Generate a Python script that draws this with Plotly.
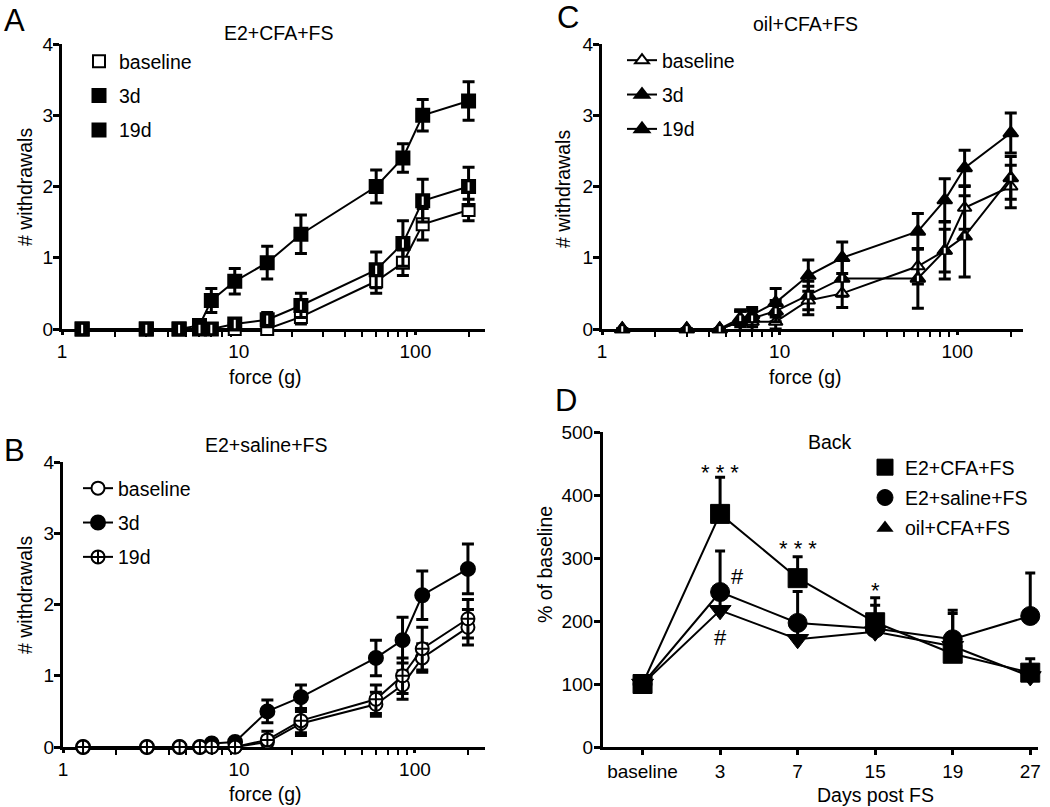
import plotly.graph_objects as go

W, H = 1050, 807
FONT = "Liberation Sans, Arial, sans-serif"

# ---------------- data ----------------
force = [1.3, 3, 4.6, 6, 7, 9.5, 14.5, 22.5, 60, 85, 110, 200]
labels_abc = ["baseline", "3d", "19d"]

a_baseline = [0, 0, 0, 0, 0, 0, 0, 0.17, 0.67, 0.93, 1.47, 1.67]
a_baseline_err = [0, 0, 0, 0, 0, 0, 0, 0.10, 0.17, 0.18, 0.22, 0.15]
a_3d = [0, 0, 0, 0.05, 0.4, 0.67, 0.93, 1.33, 2.0, 2.4, 3.0, 3.2]
a_3d_err = [0, 0, 0, 0, 0.17, 0.18, 0.23, 0.27, 0.23, 0.20, 0.22, 0.27]
a_19d = [0, 0, 0, 0, 0, 0.07, 0.13, 0.33, 0.83, 1.2, 1.8, 2.0]
a_19d_err = [0, 0, 0, 0, 0, 0.05, 0.10, 0.17, 0.25, 0.32, 0.30, 0.27]

b_baseline = [0, 0, 0, 0, 0, 0, 0.07, 0.33, 0.6, 0.87, 1.25, 1.68]
b_baseline_err = [0, 0, 0, 0, 0, 0, 0.08, 0.17, 0.17, 0.20, 0.20, 0.25]
b_3d = [0, 0, 0, 0, 0.05, 0.07, 0.5, 0.7, 1.25, 1.5, 2.13, 2.5]
b_3d_err = [0, 0, 0, 0, 0, 0, 0.16, 0.17, 0.25, 0.32, 0.34, 0.35]
b_19d = [0, 0, 0, 0, 0, 0, 0.1, 0.37, 0.67, 1.0, 1.38, 1.8]
b_19d_err = [0, 0, 0, 0, 0, 0, 0.12, 0.17, 0.20, 0.25, 0.30, 0.27]

c_baseline = [0, 0, 0, 0.1, 0.1, 0.1, 0.4, 0.5, 0.88, 1.1, 1.7, 2.0]
c_baseline_err = [0, 0, 0, 0.15, 0.15, 0.10, 0.20, 0.20, 0.25, 0.30, 0.30, 0.30]
c_3d = [0, 0, 0, 0.1, 0.2, 0.37, 0.75, 1.0, 1.37, 1.81, 2.26, 2.75]
c_3d_err = [0, 0, 0, 0.15, 0.10, 0.20, 0.22, 0.22, 0.25, 0.30, 0.25, 0.28]
c_19d = [0, 0, 0, 0.15, 0.15, 0.25, 0.47, 0.71, 0.71, 1.1, 1.3, 2.12]
c_19d_err = [0, 0, 0, 0.12, 0.12, 0.15, 0.20, 0.25, 0.42, 0.40, 0.57, 0.30]

days = ["baseline", "3", "7", "15", "19", "27"]
d_groups = ["E2+CFA+FS", "E2+saline+FS", "oil+CFA+FS"]
d_e2cfa = [100, 370, 268, 198, 148, 118]
d_e2cfa_err = [0, 58, 34, 39, 15, 22]
d_e2sal = [100, 246, 197, 188, 171, 208]
d_e2sal_err = [0, 65, 50, 37, 46, 68]
d_oil = [100, 217, 171, 183, 160, 112]
d_oil_err = [0, 20, 15, 10, 52, 18]

minor_log_ticks = [2, 3, 4, 5, 6, 7, 8, 9, 20, 30, 40, 50, 60, 70, 80, 90, 200]


def px(x):
    return x / W


def py(y):
    return 1 - y / H


fig = go.Figure()


def err(arr, w=6):
    return dict(type="data", array=arr, color="black", thickness=3, width=w)


def add_series(xa, ya, y, e, name, symbol, fill, legend, mode, size=13, overlay=None):
    fig.add_trace(go.Scatter(
        x=force, y=y, error_y=err(e), mode=mode, name=name,
        xaxis=xa, yaxis=ya, legend=legend, legendgroup=legend + name,
        cliponaxis=False,
        line=dict(color="black", width=2),
        marker=dict(symbol=symbol, size=size, color=fill,
                    line=dict(color="black", width=2)),
    ))
    if overlay:
        fig.add_trace(go.Scatter(
            x=force, y=y, mode="markers", xaxis=xa, yaxis=ya, showlegend=False,
            cliponaxis=False, hoverinfo="skip",
            marker=dict(symbol="line-ns", size=overlay,
                        line=dict(color="white", width=2)),
        ))


# ---- Panel A: lines first (not in legend), then markers
for y in (a_baseline, a_3d, a_19d):
    fig.add_trace(go.Scatter(x=force, y=y, mode="lines", xaxis="x", yaxis="y",
                             showlegend=False, cliponaxis=False,
                             line=dict(color="black", width=2)))
add_series("x", "y", a_baseline, a_baseline_err, labels_abc[0], "square", "white", "legend", "markers", 12)
add_series("x", "y", a_3d, a_3d_err, labels_abc[1], "square", "black", "legend", "markers", 13)
add_series("x", "y", a_19d, a_19d_err, labels_abc[2], "square", "black", "legend", "markers", 13, overlay=6)

# ---- Panel B
add_series("x2", "y2", b_baseline, b_baseline_err, labels_abc[0], "circle", "white", "legend2", "lines+markers", 13)
add_series("x2", "y2", b_3d, b_3d_err, labels_abc[1], "circle", "black", "legend2", "lines+markers", 14)
add_series("x2", "y2", b_19d, b_19d_err, labels_abc[2], "circle-cross", "white", "legend2", "lines+markers", 13)

# ---- Panel C
add_series("x3", "y3", c_baseline, c_baseline_err, labels_abc[0], "triangle-up", "white", "legend3", "lines+markers", 12)
add_series("x3", "y3", c_3d, c_3d_err, labels_abc[1], "triangle-up", "black", "legend3", "lines+markers", 13)
add_series("x3", "y3", c_19d, c_19d_err, labels_abc[2], "triangle-up", "black", "legend3", "lines+markers", 13, overlay=4)

# ---- Panel D
d_data = [(d_e2cfa, d_e2cfa_err, "square"), (d_e2sal, d_e2sal_err, "circle"), (d_oil, d_oil_err, "triangle-down")]
for (y, e, sym), name in zip(d_data, d_groups):
    fig.add_trace(go.Scatter(x=days, y=y, mode="lines", xaxis="x4", yaxis="y4",
                             showlegend=False, cliponaxis=False,
                             line=dict(color="black", width=2)))
for (y, e, sym), name in zip(d_data, d_groups):
    fig.add_trace(go.Scatter(
        x=days, y=y, mode="markers", xaxis="x4", yaxis="y4", name=name,
        showlegend=(sym != "triangle-down"), legend="legend4", legendgroup="d" + name,
        cliponaxis=False,
        error_y=dict(type="data", symmetric=False, array=e, arrayminus=[0] * len(e),
                     color="black", thickness=3, width=5),
        marker=dict(symbol=sym, size=19, color="black", line=dict(color="black", width=1)),
    ))
# legend entry for the triangle group drawn as an upward triangle
fig.add_trace(go.Scatter(x=[None], y=[None], mode="markers", xaxis="x4", yaxis="y4",
                         name=d_groups[2], legend="legend4", legendgroup="d" + d_groups[2],
                         marker=dict(symbol="triangle-up", size=15, color="black")))

# ---------------- axes ----------------
common = dict(showline=True, linewidth=3, linecolor="black", ticks="outside",
              tickwidth=3, ticklen=6, tickcolor="black", showgrid=False, zeroline=False,
              automargin=False,
              tickfont=dict(family=FONT, size=19, color="black"), layer="below traces")

logx = dict(common, type="log", tickvals=[1, 10, 100], ticktext=["1", "10", "100"], ticklen=3,
            minor=dict(tickvals=minor_log_ticks, ticks="outside", ticklen=5, tickwidth=2,
                       tickcolor="black", showgrid=False))
ycnt = dict(common, range=[0, 4], tickvals=[0, 1, 2, 3, 4], ticklabelstandoff=-4)

fig.update_layout(
    xaxis=dict(logx, domain=[px(62), px(485)], range=[0, 2.394], anchor="y"),
    yaxis=dict(ycnt, domain=[py(329), py(44)], anchor="x"),
    xaxis2=dict(logx, domain=[px(63), px(485)], range=[0, 2.398], anchor="y2"),
    yaxis2=dict(ycnt, domain=[py(747), py(462)], anchor="x2"),
    xaxis3=dict(logx, domain=[px(602), px(1023)], range=[0, 2.37], anchor="y3"),
    yaxis3=dict(ycnt, domain=[py(329), py(44)], anchor="x3"),
    xaxis4=dict(common, type="category", domain=[px(603), px(1038)], range=[-0.51, 5.1],
                anchor="y4", ticklen=5),
    yaxis4=dict(common, domain=[py(747), py(432)], range=[0, 500], dtick=100, anchor="x4",
                ticklabelstandoff=-3),
)

legend_base = dict(xanchor="left", yanchor="top", bgcolor="rgba(0,0,0,0)",
                   font=dict(family=FONT, size=19.5, color="black"),
                   traceorder="grouped", tracegroupgap=6, itemclick=False)
fig.update_layout(
    legend=dict(legend_base, x=px(79), y=py(42)),
    legend2=dict(legend_base, x=px(78), y=py(469)),
    legend3=dict(legend_base, x=px(622), y=py(41)),
    legend4=dict(legend_base, x=px(865), y=py(448), tracegroupgap=2),
)

# ---------------- text ----------------
ann = []


def text(x, y, s, size=19.5, angle=0, **kw):
    ann.append(dict(x=px(x), y=py(y), xref="paper", yref="paper", text=s, showarrow=False,
                    textangle=angle, xanchor="center", yanchor="middle",
                    font=dict(family=FONT, size=size, color="black"), **kw))


for letter, (lx, ly) in zip("ABCD", [(14, 21), (14, 451), (568, 18), (566, 400)]):
    text(lx, ly, letter, size=31)

text(278, 33, "E2+CFA+FS")
text(266, 445, "E2+saline+FS")
text(805, 24, "oil+CFA+FS")
text(830, 442, "Back")

text(25, 187, "# withdrawals", angle=-90)
text(25, 595, "# withdrawals", angle=-90)
text(563, 189, "# withdrawals", angle=-90)
text(545, 565, "% of baseline", angle=-90)

text(265, 377, "force (g)")
text(265, 794, "force (g)")
text(805, 377, "force (g)")
text(875, 795, "Days post FS")

for x, y, s in [(1, 436, "* * *"), (2, 315, "* * *"), (3, 248, "*"), (1.22, 270, "#"), (1.0, 174, "#")]:
    ann.append(dict(x=x, y=y, xref="x4", yref="y4", text=s, showarrow=False,
                    xanchor="center", yanchor="middle",
                    font=dict(family=FONT, size=22, color="black")))

fig.update_layout(
    annotations=ann,
    width=W, height=H, autosize=False,
    margin=dict(l=0, r=0, t=0, b=0),
    paper_bgcolor="white", plot_bgcolor="white",
    font=dict(family=FONT, color="black"),
    showlegend=True,
)

fig.write_html("out.html",
               config={"displayModeBar": False},
               post_script="document.body.style.margin='0';document.body.style.padding='0';"
                           "document.body.style.overflow='hidden';")
